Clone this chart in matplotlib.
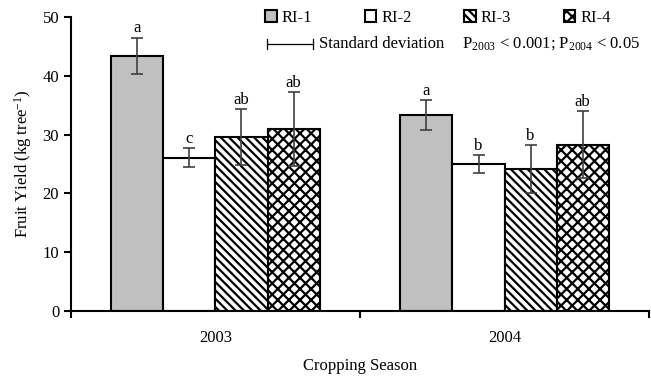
import matplotlib
matplotlib.use("Agg")
import matplotlib.pyplot as plt
import numpy as np
from matplotlib.lines import Line2D

plt.rcParams['font.family'] = ['Liberation Serif', 'DejaVu Serif']
plt.rcParams['mathtext.fontset'] = 'custom'
plt.rcParams['mathtext.rm'] = 'Liberation Serif'
plt.rcParams['mathtext.default'] = 'regular'
plt.rcParams['hatch.linewidth'] = 1.6

seasons = ["2003", "2004"]
treatments = ["RI-1", "RI-2", "RI-3", "RI-4"]
yield_means = {
    "RI-1": [43.4, 33.3],
    "RI-2": [26.1, 25.0],
    "RI-3": [29.6, 24.1],
    "RI-4": [30.9, 28.3],
}
yield_sd = {
    "RI-1": [3.1, 2.5],
    "RI-2": [1.6, 1.5],
    "RI-3": [4.8, 4.1],
    "RI-4": [6.3, 5.7],
}
letters = {
    "RI-1": ["a", "a"],
    "RI-2": ["c", "b"],
    "RI-3": ["ab", "b"],
    "RI-4": ["ab", "ab"],
}

facecolors = ["#c0c0c0", "white", "white", "white"]
hatches = [None, None, "\\\\\\\\", "xxx"]

FS = 12
fig = plt.figure(figsize=(6.51, 3.77), dpi=100)
ax = fig.add_axes([0.109, 0.175, 0.888, 0.780])

x = np.arange(len(seasons))
w = 0.18
handles = []
for i, t in enumerate(treatments):
    pos = x + (i - 1.5) * w
    bars = ax.bar(pos, yield_means[t], width=w, color=facecolors[i], edgecolor="black",
                  linewidth=1.5, hatch=hatches[i], label=t, zorder=2)
    handles.append(bars)
    ax.errorbar(pos, yield_means[t], yerr=yield_sd[t], fmt="none", ecolor="#404040",
                elinewidth=1.2, capsize=4, capthick=1.2, zorder=3)
    for p, m, s, l in zip(pos, yield_means[t], yield_sd[t], letters[t]):
        ax.text(p, m + s + 0.2, l, ha="center", va="bottom", fontsize=FS)

ax.set_xlim(-0.5, 1.5)
ax.set_ylim(0, 50)
ax.set_yticks(np.arange(0, 51, 10))
ax.set_xticks(x)
ax.set_xticklabels(seasons, fontsize=FS)
ax.set_xticks([-0.5, 0.5, 1.5], minor=True)
ax.tick_params(axis="x", which="major", length=0, pad=14)
ax.tick_params(axis="x", which="minor", length=5, width=1.5, direction="out")
ax.tick_params(axis="y", length=5, width=1.5, direction="out", labelsize=FS)
for s in ["top", "right"]:
    ax.spines[s].set_visible(False)
for s in ["left", "bottom"]:
    ax.spines[s].set_linewidth(1.5)

ax.set_ylabel("Fruit Yield (kg tree$^{-1}$)", fontsize=FS, labelpad=6)
ax.set_xlabel("Cropping Season", fontsize=FS, labelpad=8)

leg = fig.legend(handles=handles, labels=treatments, ncol=4, loc="upper left",
                 bbox_to_anchor=(0.389, 1.005), frameon=False, fontsize=FS,
                 handlelength=0.7, handleheight=0.7, handletextpad=0.3,
                 columnspacing=3.15, borderaxespad=0.3)

# standard deviation key
ys = 1 - 44 / 377
x0, x1 = 267 / 651, 313 / 651
fig.add_artist(Line2D([x0, x1], [ys, ys], color="black", lw=0.9, transform=fig.transFigure))
for xx in (x0, x1):
    fig.add_artist(Line2D([xx, xx], [ys - 0.012, ys + 0.012], color="black", lw=0.9,
                          transform=fig.transFigure))
fig.text(319 / 651, ys, "Standard deviation", fontsize=FS, va="center", ha="left")
fig.text(462 / 651, ys, "P$_{2003}$ < 0.001; P$_{2004}$ < 0.05", fontsize=FS,
         va="center", ha="left")

fig.savefig("out.png", dpi=100)
